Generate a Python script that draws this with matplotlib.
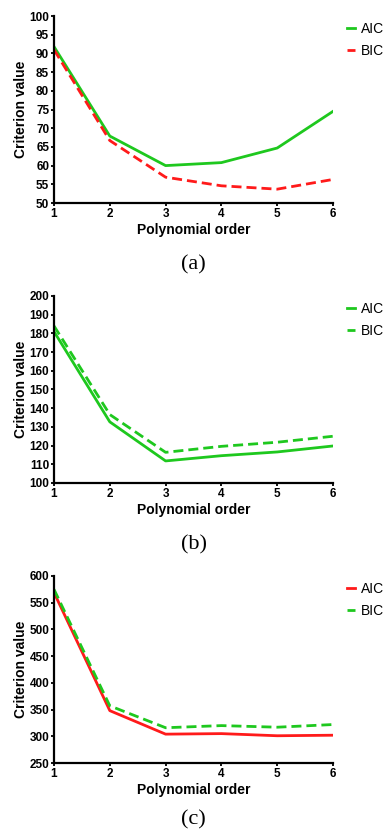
import matplotlib.pyplot as plt

orders = [1, 2, 3, 4, 5, 6]

aic_a = [91.8, 67.9, 60.0, 60.8, 64.7, 74.5]
bic_a = [91.0, 66.7, 56.9, 54.6, 53.7, 56.3]
aic_b = [181.0, 132.7, 111.8, 114.6, 116.6, 119.8]
bic_b = [184.0, 136.6, 116.4, 119.6, 121.8, 125.0]
aic_c = [569, 348, 304, 305, 301, 302]
bic_c = [575, 357, 316, 320, 317, 322]

green = '#1ec81e'
red = '#ff1a1a'

panels = [
    (aic_a, bic_a, green, red, (50, 100), 5, '(a)'),
    (aic_b, bic_b, green, green, (100, 200), 10, '(b)'),
    (aic_c, bic_c, red, green, (250, 600), 50, '(c)'),
]

plt.rcParams['font.family'] = ['Liberation Sans', 'DejaVu Sans']
fig = plt.figure(figsize=(3.87, 8.34), dpi=100)

W, H = 387, 834
tops = [16, 296, 576]
cap_y = [265, 545, 820]
for (aic, bic, c_aic, c_bic, ylim, step, cap), top, cy in zip(panels, tops, cap_y):
    ax = fig.add_axes([54 / W, 1 - (top + 187) / H, 279 / W, 187 / H])
    ax.plot(orders, aic, color=c_aic, lw=2, label='AIC')
    ax.plot(orders, bic, color=c_bic, lw=2, ls=(0, (3.6, 1.8)), label='BIC')
    ax.set_xlim(1, 6)
    ax.set_ylim(*ylim)
    ax.set_xticks(orders)
    ax.set_yticks(range(ylim[0], ylim[1] + 1, step))
    for s in ['top', 'right']:
        ax.spines[s].set_visible(False)
    for s in ['left', 'bottom']:
        ax.spines[s].set_linewidth(1.6)
    ax.tick_params(length=2.5, width=1.3, labelsize=8.5, pad=1)
    for lab in ax.get_xticklabels() + ax.get_yticklabels():
        lab.set_fontweight('bold')
    ax.set_xlabel('Polynomial order', fontsize=10, fontweight='bold', labelpad=2)
    ax.set_ylabel('Criterion value', fontsize=10, fontweight='bold', labelpad=1)
    ax.legend(loc='upper left', bbox_to_anchor=(1.03, 1.0), frameon=False,
              fontsize=10, handlelength=0.6, handletextpad=0.4, labelspacing=0.6,
              borderaxespad=0)
    fig.text(0.5, 1 - cy / H, cap, ha='center', va='center',
             fontsize=16, family='Liberation Serif')

fig.savefig('out.png', dpi=100)
